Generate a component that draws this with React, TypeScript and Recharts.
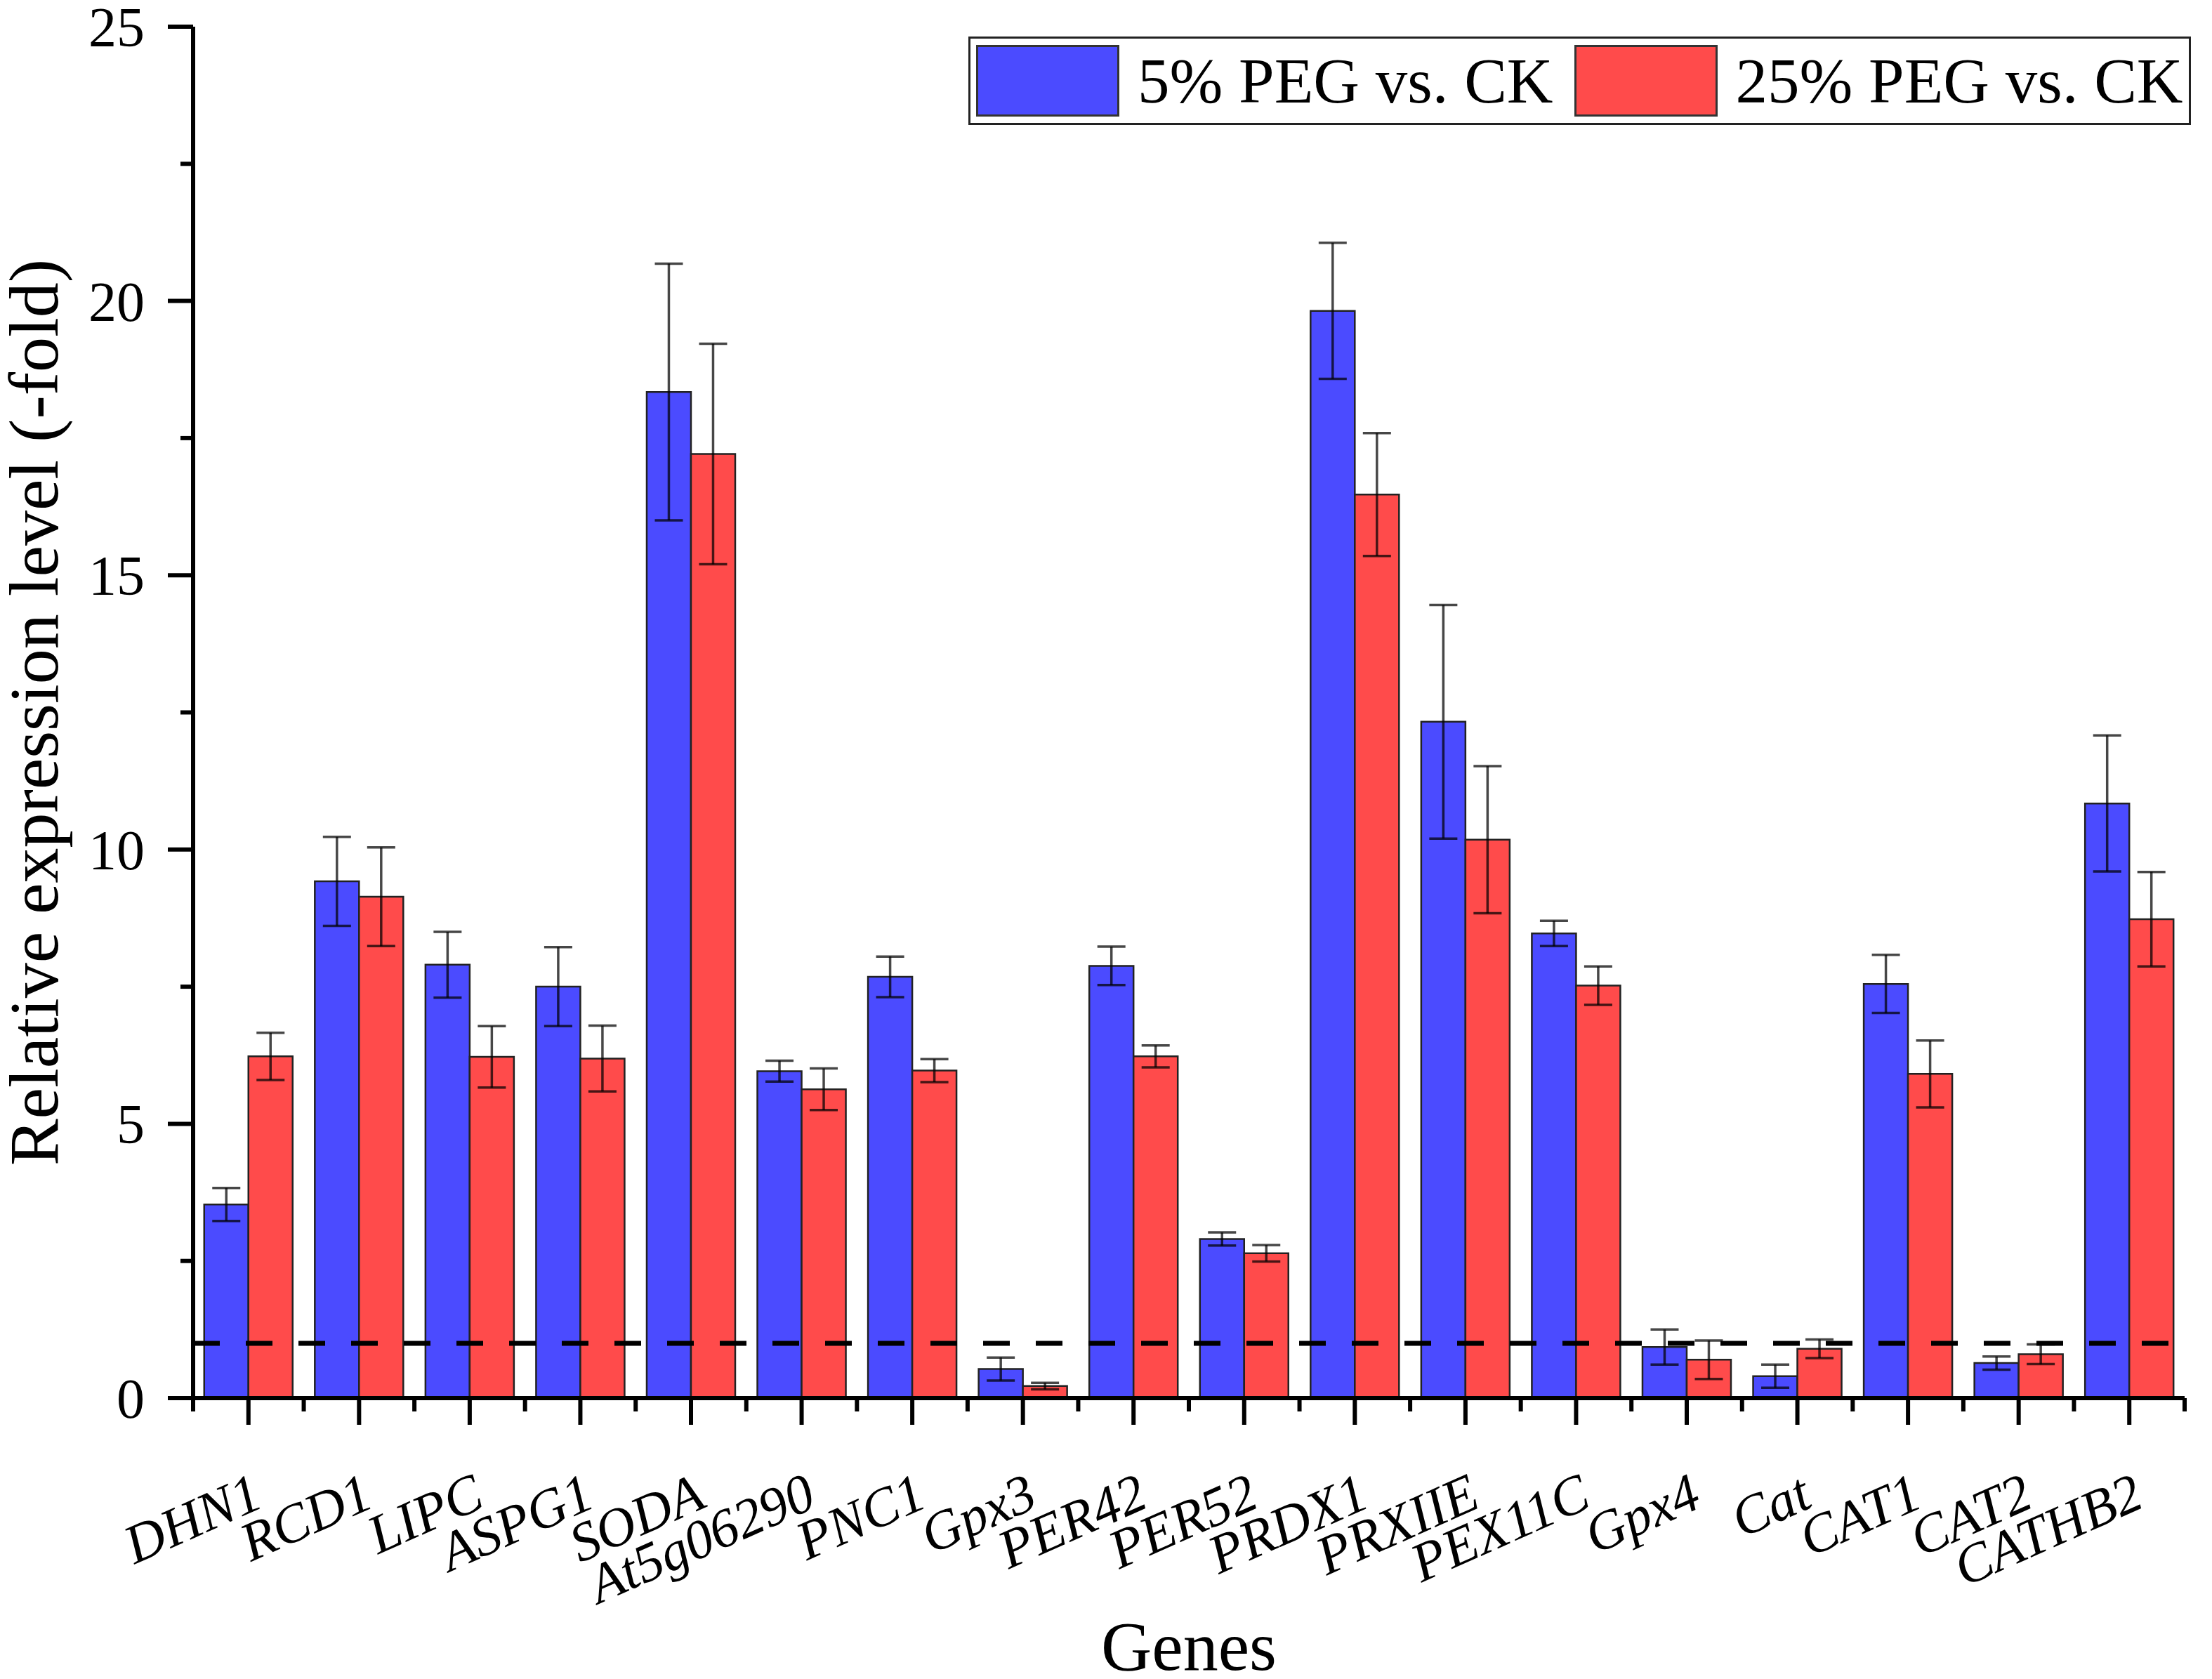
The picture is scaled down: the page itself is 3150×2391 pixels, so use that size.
import { Bar, BarChart, ErrorBar, ReferenceLine, XAxis, YAxis } from 'recharts';

// values (relative expression, -fold)
const genes = [
  'DHN1', 'RCD1', 'LIPC', 'ASPG1', 'SODA', 'At5g06290', 'PNC1', 'Gpx3', 'PER42',
  'PER52', 'PRDX1', 'PRXIIE', 'PEX11C', 'Gpx4', 'Cat', 'CAT1', 'CAT2', 'CATHB2',
];
const peg5 = [3.53, 9.42, 7.9, 7.5, 18.34, 5.96, 7.68, 0.53, 7.88, 2.9, 19.82, 12.33, 8.47, 0.93, 0.4, 7.55, 0.64, 10.84];
const peg5Err = [0.3, 0.81, 0.6, 0.72, 2.34, 0.19, 0.37, 0.21, 0.35, 0.12, 1.24, 2.13, 0.23, 0.32, 0.21, 0.53, 0.12, 1.24];
const peg25 = [6.23, 9.14, 6.22, 6.19, 17.21, 5.63, 5.97, 0.22, 6.23, 2.64, 16.47, 10.18, 7.52, 0.7, 0.9, 5.91, 0.8, 8.73];
const peg25Err = [0.43, 0.9, 0.56, 0.6, 2.01, 0.38, 0.21, 0.06, 0.2, 0.15, 1.12, 1.34, 0.35, 0.35, 0.17, 0.61, 0.18, 0.86];
const yTicks = [0, 2.5, 5, 7.5, 10, 12.5, 15, 17.5, 20, 22.5, 25];
const seriesNames = ['5% PEG vs. CK', '25% PEG vs. CK'];

const BLUE = '#4b4bff';
const RED = '#ff4b4b';
const FONT = '"Liberation Serif", "Times New Roman", serif';

const W = 3150;
const H = 2391;
const MARGIN = { top: 38, right: 39, bottom: 0, left: 0 };
const Y_AXIS_W = 275;
const X_AXIS_H = 400;
const PLOT_W = W - MARGIN.left - MARGIN.right - Y_AXIS_W;

const data = genes.map((g, i) => ({
  gene: g,
  a: peg5[i],
  aErr: peg5Err[i],
  b: peg25[i],
  bErr: peg25Err[i],
}));

const YTick = (props: any) => {
  const { x, y, payload } = props;
  const major = payload.value % 5 === 0;
  return (
    <g>
      <line x1={x - (major ? 36 : 18)} x2={x} y1={y} y2={y} stroke="#000" strokeWidth={6} />
      {major && (
        <text x={x - 69} y={y} dy="0.35em" textAnchor="end" fontSize={80} fontFamily={FONT} fill="#000">
          {payload.value}
        </text>
      )}
    </g>
  );
};

const XTick = (props: any) => {
  const { x, y, payload, index } = props;
  const step = PLOT_W / genes.length;
  return (
    <g>
      <line x1={x} x2={x} y1={y} y2={y + 38} stroke="#000" strokeWidth={6} />
      <line x1={x - step / 2} x2={x - step / 2} y1={y} y2={y + 19} stroke="#000" strokeWidth={6} />
      {index === genes.length - 1 && (
        <line x1={x + step / 2} x2={x + step / 2} y1={y} y2={y + 19} stroke="#000" strokeWidth={6} />
      )}
      <text
        transform={`translate(${x + 24},${y + 154}) rotate(-24)`}
        textAnchor="end"
        fontSize={78}
        fontStyle="italic"
        fontFamily={FONT}
        fill="#000"
      >
        {payload.value}
      </text>
    </g>
  );
};

const YLabel = (props: any) => {
  const { viewBox } = props;
  const cy = viewBox.y + viewBox.height / 2;
  return (
    <text
      x={82}
      y={cy}
      transform={`rotate(-90, 82, ${cy})`}
      textAnchor="middle"
      fontSize={100}
      fontFamily={FONT}
      fill="#000"
    >
      Relative expression level (-fold)
    </text>
  );
};

const XLabel = (props: any) => {
  const { viewBox } = props;
  return (
    <text
      x={viewBox.x + viewBox.width / 2}
      y={viewBox.y + 387}
      textAnchor="middle"
      fontSize={100}
      fontFamily={FONT}
      fill="#000"
    >
      Genes
    </text>
  );
};

const LegendBox = () => (
  <div
    style={{
      position: 'absolute',
      left: 1379,
      top: 52,
      width: 1741,
      height: 126,
      boxSizing: 'border-box',
      border: '3px solid #222',
      background: '#fff',
      display: 'flex',
      alignItems: 'center',
      paddingLeft: 8,
      fontFamily: FONT,
      fontSize: 91,
      lineHeight: 1,
      color: '#000',
    }}
  >
    {[BLUE, RED].map((c, i) => (
      <div key={c} style={{ display: 'flex', alignItems: 'center', marginLeft: i ? 30 : 0 }}>
        <div style={{ width: 204, height: 102, boxSizing: 'border-box', background: c, border: '3px solid #333' }} />
        <span style={{ marginLeft: 26, whiteSpace: 'nowrap' }}>{seriesNames[i]}</span>
      </div>
    ))}
  </div>
);

const App = () => {
  return (
    <div style={{ position: 'relative', width: W, height: H, background: '#fff' }}>
      <style>{'body{margin:0}'}</style>
      <BarChart width={W} height={H} data={data} margin={MARGIN} barCategoryGap="10%" barGap={0}>
        <XAxis
          dataKey="gene"
          height={X_AXIS_H}
          interval={0}
          tickSize={0}
          tickMargin={0}
          tickLine={false}
          tick={<XTick />}
          axisLine={{ stroke: '#000', strokeWidth: 6 }}
          label={<XLabel />}
        />
        <YAxis
          width={Y_AXIS_W}
          domain={[0, 25]}
          ticks={yTicks}
          interval={0}
          tickSize={0}
          tickMargin={0}
          tickLine={false}
          tick={<YTick />}
          axisLine={{ stroke: '#000', strokeWidth: 6 }}
          label={<YLabel />}
        />
        <Bar dataKey="a" name={seriesNames[0]} fill={BLUE} stroke="#222" strokeWidth={2.5} isAnimationActive={false}>
          <ErrorBar dataKey="aErr" width={20} stroke="#000" strokeOpacity={0.72} strokeWidth={3.5} isAnimationActive={false} />
        </Bar>
        <Bar dataKey="b" name={seriesNames[1]} fill={RED} stroke="#222" strokeWidth={2.5} isAnimationActive={false}>
          <ErrorBar dataKey="bErr" width={20} stroke="#000" strokeOpacity={0.72} strokeWidth={3.5} isAnimationActive={false} />
        </Bar>
        <ReferenceLine y={1} stroke="#000" strokeWidth={7} strokeDasharray="38 37" />
      </BarChart>
      <LegendBox />
    </div>
  );
};

export default App;
